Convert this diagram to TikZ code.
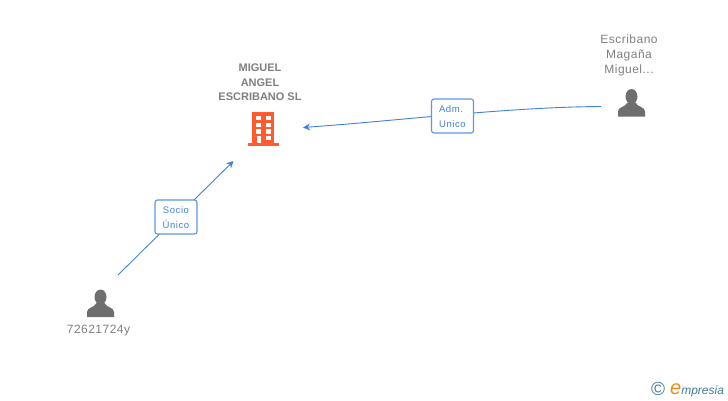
\documentclass[tikz,border=0pt]{standalone}
\usepackage{fontspec}
\setmainfont{Liberation Sans}
\newfontfamily\labelfont[LetterSpace=4]{Liberation Sans}
\newfontfamily\boxfont[LetterSpace=6]{Liberation Sans}
\usetikzlibrary{arrows.meta}
\definecolor{linkblue}{HTML}{3F80DE}
\definecolor{boxblue}{HTML}{5C96E6}
\definecolor{textgrey}{HTML}{7F7F7F}
\definecolor{icongrey}{HTML}{6E6E6E}
\definecolor{buildred}{HTML}{FF5A30}
\definecolor{logoteal}{HTML}{3F7F96}
\definecolor{logoorange}{HTML}{F08A1D}
\newcommand{\boxline}[1]{\raisebox{-1.7pt}[7pt][2pt]{#1}}

\begin{document}
\begin{tikzpicture}[x=1pt, y=-1pt, > = {Stealth[length=7pt,width=7pt]},
    link/.style = {linkblue, line width=0.9pt, ->},
    rolebox/.style = {draw=boxblue, line width=1.1pt, fill=white, rounded corners=2.5pt, minimum width=42pt, minimum height=34pt, inner sep=0pt, align=center, text=linkblue, font=\boxfont\fontsize{9.5}{15}\selectfont},
    personname/.style = {text=textgrey, align=center, inner sep=0pt, font=\labelfont\fontsize{12}{15}\selectfont},
    company/.style = {text=textgrey, align=center, inner sep=0pt, font=\bfseries\fontsize{11}{14.5}\selectfont},
    person/.pic = {
        \fill[icongrey] (0,-20) circle[x radius=6, y radius=7.5];
        \fill[icongrey] (-13.5,0) -- (-13.5,-5) .. controls (-13.5,-10) and (-6,-9) .. (-4,-14) -- (4,-14) .. controls (6,-9) and (13.5,-10) .. (13.5,-5) -- (13.5,0) -- cycle;
    }]

    \useasboundingbox (0,0) rectangle (728,400);

    % link ends
    \coordinate (personAend) at (118,275);
    \coordinate (companytip) at (233.5,161);
    \coordinate (personBend) at (601,106.5);
    \coordinate (companyside) at (303,127.5);

    % links
    \draw[link] (personAend) -- (companytip);
    \draw[link] (personBend) .. controls (510,107) and (400,120.5) .. (companyside);

    % role boxes
    \node[rolebox] (socio) at (176,217) {\boxline{Socio}\\\boxline{Único}};
    \node[rolebox] (adm) at (452.5,116) {\boxline{Adm.\hspace{3pt}}\\\boxline{Unico}};

    % company
    \node[company] (miguel) at (260,82.5) {MIGUEL\\ANGEL\\ESCRIBANO SL};
    \fill[buildred] (252,112) rectangle (274,143);
    \fill[buildred] (247.5,142.5) rectangle (279,146);
    \foreach \wy in {116,122.7,129.3} {
        \fill[white] (255.7,\wy) rectangle (260.5,\wy+4.2);
        \fill[white] (265.7,\wy) rectangle (270.5,\wy+4.2);
    }
    \fill[white] (256.7,136) rectangle (260.5,143);
    \fill[white] (265.7,136) rectangle (270.5,140.2);

    % people
    \pic at (631.5,116.5) {person};
    \node[personname] (escribano) at (629,55.5) {Escribano\\Magaña\\Miguel...};
    \pic at (100.5,317) {person};
    \node[personname] (dni) at (98.5,331) {72621724y};

    % logo
    \node[text=logoteal, inner sep=0pt, font=\fontsize{19}{19}\selectfont] (copyr) at (658,389) {©};
    \node[anchor=base west, inner sep=0pt, text=logoteal, font=\itshape\fontsize{12}{12}\selectfont] (logo) at (670,394) {{\color{logoorange}\fontsize{20}{20}\selectfont e}mpresia};

\end{tikzpicture}
\end{document}
